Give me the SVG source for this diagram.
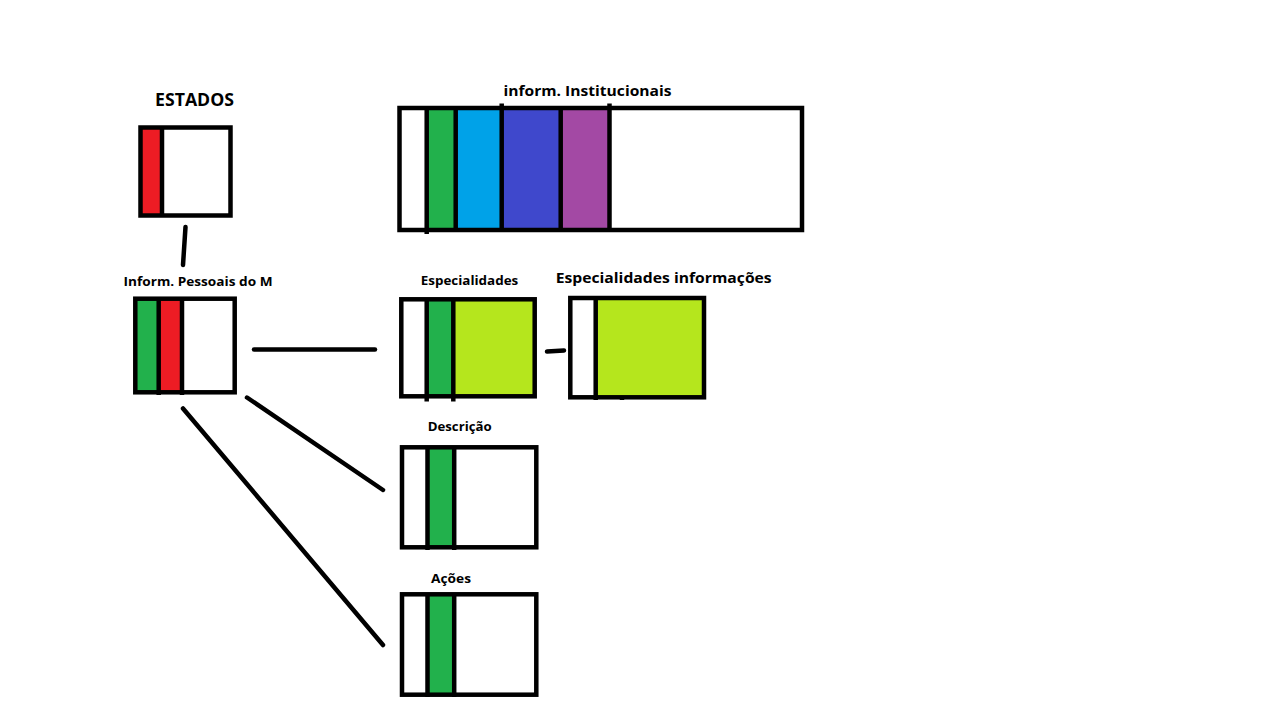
<svg xmlns="http://www.w3.org/2000/svg" width="1266" height="728" viewBox="0 0 1266 728">
<style>
.box{fill:none;stroke:#000;stroke-width:4.5}
.div{stroke:#000;stroke-width:4.5}
.con{stroke:#000;stroke-width:4.5;stroke-linecap:round;fill:none}
.lbl{font-family:"Open Sans","Noto Sans","DejaVu Sans",sans-serif;font-weight:bold;fill:#000}
.red{fill:#ED1C24}.green{fill:#22B14C}.blue{fill:#00A2E8}.indigo{fill:#3F48CC}.purple{fill:#A349A4}.lime{fill:#B5E61D}
</style>
<rect width="1266" height="728" fill="#fff"/>
<g id="connectors">
<line class="con" x1="185.5" y1="227" x2="183" y2="265"/>
<line class="con" x1="254" y1="349.5" x2="375" y2="349.5"/>
<line class="con" x1="547" y1="351.5" x2="564" y2="350.5"/>
<line class="con" x1="247" y1="397.5" x2="383" y2="490"/>
<line class="con" x1="183" y1="408.5" x2="383" y2="645"/>
</g>
<g id="estados">
<text class="lbl" x="194.5" y="106" font-size="17" text-anchor="middle" textLength="79" lengthAdjust="spacingAndGlyphs">ESTADOS</text>
<rect x="140.5" y="127.5" width="21.5" height="88" class="red"/>
<line class="div" x1="162" y1="127.5" x2="162" y2="217"/>
<rect x="140.5" y="127.5" width="90" height="88" class="box"/>
</g>
<g id="institucionais">
<text class="lbl" x="587.5" y="96" font-size="15" text-anchor="middle" textLength="168" lengthAdjust="spacingAndGlyphs">inform. Institucionais</text>
<rect x="426.7" y="108" width="29" height="122" class="green"/>
<rect x="455.7" y="108" width="46" height="122" class="blue"/>
<rect x="501.7" y="108" width="59" height="122" class="indigo"/>
<rect x="560.7" y="108" width="49" height="122" class="purple"/>
<line class="div" x1="426.7" y1="108" x2="426.7" y2="234"/>
<line class="div" x1="455.7" y1="108" x2="455.7" y2="230"/>
<line class="div" x1="501.7" y1="103.5" x2="501.7" y2="230"/>
<line class="div" x1="560.7" y1="108" x2="560.7" y2="230"/>
<line class="div" x1="609.5" y1="103.5" x2="609.5" y2="230"/>
<rect x="399.5" y="108" width="402.5" height="122" class="box"/>
</g>
<g id="pessoais">
<text class="lbl" x="198" y="286" font-size="13" text-anchor="middle" textLength="149" lengthAdjust="spacingAndGlyphs">Inform. Pessoais do M</text>
<rect x="135.3" y="298.7" width="23.4" height="93.6" class="green"/>
<rect x="158.7" y="298.7" width="23.3" height="93.6" class="red"/>
<line class="div" x1="158.7" y1="298.7" x2="158.7" y2="395"/>
<line class="div" x1="182" y1="298.7" x2="182" y2="395"/>
<rect x="135.3" y="298.7" width="99.4" height="93.6" class="box"/>
</g>
<g id="especialidades">
<text class="lbl" x="469.5" y="284.5" font-size="13" text-anchor="middle" textLength="97.5" lengthAdjust="spacingAndGlyphs">Especialidades</text>
<rect x="426.7" y="299.3" width="26.6" height="97" class="green"/>
<rect x="453.3" y="299.3" width="81.4" height="97" class="lime"/>
<line class="div" x1="426.7" y1="299.3" x2="426.7" y2="401.5"/>
<line class="div" x1="453.3" y1="299.3" x2="453.3" y2="401.5"/>
<rect x="401.3" y="299.3" width="133.4" height="97" class="box"/>
</g>
<g id="especialidades-informacoes">
<text class="lbl" x="663.7" y="283" font-size="15" text-anchor="middle" textLength="216" lengthAdjust="spacingAndGlyphs">Especialidades informações</text>
<rect x="595.7" y="298" width="108.3" height="99.3" class="lime"/>
<line class="div" x1="595.7" y1="298" x2="595.7" y2="400"/>
<line class="div" x1="622" y1="397" x2="622" y2="400"/>
<rect x="570.3" y="298" width="133.7" height="99.3" class="box"/>
</g>
<g id="descricao">
<text class="lbl" x="459.7" y="431" font-size="13" text-anchor="middle" textLength="64" lengthAdjust="spacingAndGlyphs">Descrição</text>
<rect x="427.5" y="447.3" width="26.7" height="100" class="green"/>
<line class="div" x1="427.5" y1="447.3" x2="427.5" y2="550"/>
<line class="div" x1="454.2" y1="447.3" x2="454.2" y2="550"/>
<rect x="402" y="447.3" width="134.3" height="100" class="box"/>
</g>
<g id="acoes">
<text class="lbl" x="451" y="583" font-size="13" text-anchor="middle" textLength="40" lengthAdjust="spacingAndGlyphs">Ações</text>
<rect x="427.5" y="594.3" width="26.7" height="100.4" class="green"/>
<line class="div" x1="427.5" y1="594.3" x2="427.5" y2="697"/>
<line class="div" x1="454.2" y1="594.3" x2="454.2" y2="697"/>
<rect x="402" y="594.3" width="134.3" height="100.4" class="box"/>
</g>
</svg>
